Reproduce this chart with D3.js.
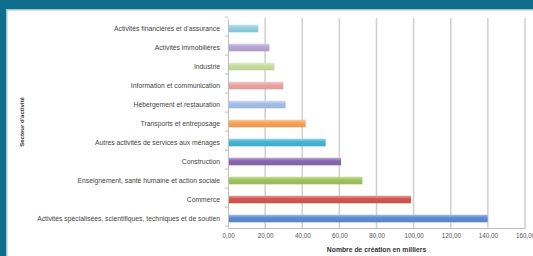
<!DOCTYPE html>
<html>
<head>
<meta charset="utf-8">
<script src="https://cdn.jsdelivr.net/npm/d3@7"></script>
<style>
  body { margin: 0; background: #fff; }
  svg { display: block; }
  text { font-family: "Liberation Sans", "DejaVu Sans", sans-serif; }
</style>
</head>
<body>
<div id="chart"></div>
<script>
const categories = [
  "Activités financières et d'assurance",
  "Activités immobilières",
  "Industrie",
  "Information et communication",
  "Hébergement et restauration",
  "Transports et entreposage",
  "Autres activités de services aux ménages",
  "Construction",
  "Enseignement, santé humaine et action sociale",
  "Commerce",
  "Activités spécialisées, scientifiques, techniques et de soutien"
];
const values = [16.3, 22.3, 25.0, 29.8, 31.0, 41.8, 52.6, 60.9, 72.4, 98.6, 139.9];
const xTicks = [0, 20, 40, 60, 80, 100, 120, 140, 160];
const barColors = ["#8ecfe0", "#b7a5d5", "#c6de9e", "#eba3a3", "#a3bfea", "#f7a256",
                   "#45b3d3", "#8868ae", "#9dc45c", "#d2564f", "#5c8bd0"];

const W = 533, H = 256;
const margin = { top: 19, right: 8, bottom: 28, left: 228 };
const width = 525 - margin.left;
const height = H - margin.bottom - margin.top;

const svg = d3.select("#chart").append("svg")
  .attr("width", W)
  .attr("height", H);

// teal frame
svg.append("rect").attr("x", 0).attr("y", 0).attr("width", W).attr("height", 9).attr("fill", "#0e6d8c");
svg.append("rect").attr("x", 0).attr("y", 9).attr("width", W).attr("height", 1.5).attr("fill", "#9fc6d2");
svg.append("rect").attr("x", 0).attr("y", 0).attr("width", 6).attr("height", H).attr("fill", "#0e6d8c");
svg.append("rect").attr("x", 6).attr("y", 10).attr("width", 1.5).attr("height", H).attr("fill", "#9fc6d2");

const defs = svg.append("defs");
barColors.forEach((c, i) => {
  const g = defs.append("linearGradient").attr("id", "grad" + i)
    .attr("x1", 0).attr("y1", 0).attr("x2", 0).attr("y2", 1);
  g.append("stop").attr("offset", "0%").attr("stop-color", d3.interpolateRgb(c, "#fff")(0.45));
  g.append("stop").attr("offset", "40%").attr("stop-color", c);
  g.append("stop").attr("offset", "100%").attr("stop-color", d3.color(c).darker(0.15));
});

const x = d3.scaleLinear().domain([0, 160]).range([0, width]);
const y = d3.scaleBand().domain(categories).range([0, height]).paddingInner(0.6).paddingOuter(0.3);

const g = svg.append("g").attr("transform", `translate(${margin.left},${margin.top})`);

// gridlines
g.append("g")
  .selectAll("line")
  .data(xTicks.slice(1))
  .join("line")
  .attr("x1", d => x(d)).attr("x2", d => x(d))
  .attr("y1", -1).attr("y2", height)
  .attr("stroke", "#cfcfcf")
  .attr("stroke-width", 1.5);

// bars
g.append("g")
  .selectAll("rect")
  .data(values)
  .join("rect")
  .attr("x", 0)
  .attr("y", (d, i) => y(categories[i]))
  .attr("width", d => x(d))
  .attr("height", y.bandwidth())
  .attr("fill", (d, i) => `url(#grad${i})`);

// x axis
const xAxis = g.append("g")
  .attr("transform", `translate(0,${height})`)
  .call(d3.axisBottom(x).tickValues(xTicks).tickSize(0).tickPadding(6)
    .tickFormat(d => d3.format(".2f")(d).replace(".", ",")));
xAxis.select(".domain").attr("stroke", "#bdbdbd");
xAxis.selectAll("text").attr("font-size", 6.3).attr("fill", "#555");

// y axis
const yAxis = g.append("g")
  .call(d3.axisLeft(y).tickSize(0).tickPadding(8));
yAxis.select(".domain").attr("stroke", "#bdbdbd");
yAxis.selectAll("text").attr("font-size", 6.8).attr("fill", "#444");
yAxis.append("g")
  .selectAll("line")
  .data(d3.range(categories.length + 1))
  .join("line")
  .attr("x1", -3).attr("x2", 0)
  .attr("y1", i => i * y.step() - y.step() * 0.1)
  .attr("y2", i => i * y.step() - y.step() * 0.1)
  .attr("stroke", "#bdbdbd");

// titles
svg.append("text")
  .attr("x", margin.left + width / 2)
  .attr("y", 252)
  .attr("text-anchor", "middle")
  .attr("font-size", 6.8)
  .attr("font-weight", "bold")
  .attr("fill", "#333")
  .text("Nombre de création en milliers");

svg.append("text")
  .attr("transform", "translate(24,122) rotate(-90)")
  .attr("text-anchor", "middle")
  .attr("font-size", 6)
  .attr("font-weight", "bold")
  .attr("fill", "#333")
  .text("Secteur d'activité");
</script>
</body>
</html>
